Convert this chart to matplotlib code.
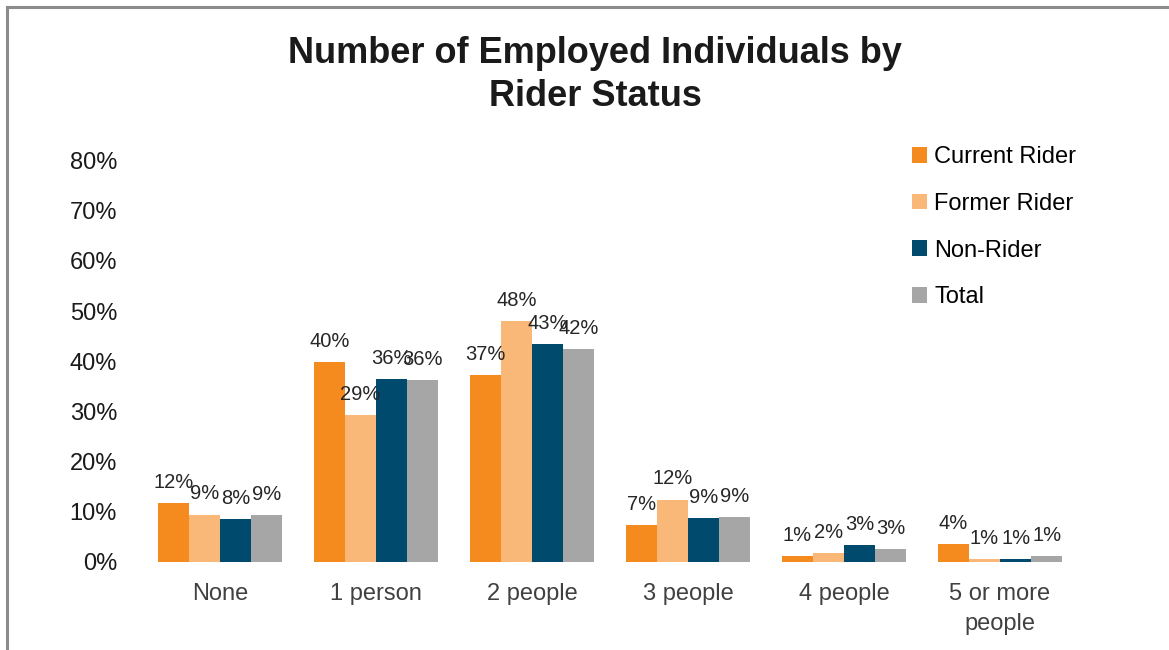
import numpy as np
import matplotlib
matplotlib.use("Agg")
import matplotlib.pyplot as plt
from matplotlib.lines import Line2D
from matplotlib.patches import Patch

plt.rcParams["font.family"] = ["Liberation Sans", "DejaVu Sans"]

# share of respondents by number of employed individuals in household (%)
categories = ["None", "1 person", "2 people", "3 people", "4 people", "5 or more\npeople"]
current_rider = [11.7, 39.9, 37.3, 7.4, 1.2, 3.6]
former_rider = [9.4, 29.3, 48.0, 12.4, 1.7, 0.6]
non_rider = [8.5, 36.4, 43.4, 8.8, 3.3, 0.6]
total = [9.3, 36.2, 42.4, 9.0, 2.6, 1.2]

series = [
    ("Current Rider", current_rider, "#F58A1F"),
    ("Former Rider", former_rider, "#F9B878"),
    ("Non-Rider", non_rider, "#004A6E"),
    ("Total", total, "#A6A6A6"),
]

fig = plt.figure(figsize=(11.69, 6.5), dpi=100)
ax = fig.add_axes([0.1215, 0.1358, 0.8007, 0.617])

x = np.arange(len(categories))
width = 0.2
for i, (name, vals, color) in enumerate(series):
    pos = x - 0.3 + i * width
    ax.bar(pos, vals, width=width, color=color, label=name)
    for px, v in zip(pos, vals):
        ax.annotate(f"{v:.0f}%", (px, v), xytext=(0, 8), textcoords="offset points",
                    ha="center", va="bottom", fontsize=14.5, color="#262626")

ax.set_xlim(-0.5, len(categories) - 0.5)
ax.set_ylim(0, 80)
ax.set_yticks(np.arange(0, 81, 10))
ax.set_yticklabels([f"{t}%" for t in range(0, 81, 10)], fontsize=17, color="#1a1a1a")
ax.set_xticks(x)
ax.set_xticklabels(categories, fontsize=17, color="#404040", linespacing=1.5)
ax.tick_params(axis="both", length=0)
ax.tick_params(axis="x", pad=15)
ax.tick_params(axis="y", pad=18)
for s in ax.spines.values():
    s.set_visible(False)

handles = [Patch(facecolor=c, edgecolor="none") for _, _, c in series]
fig.legend(handles, [n for n, _, _ in series], loc="upper left",
           bbox_to_anchor=(0.762, 0.808), frameon=False, fontsize=17,
           handlelength=0.65, handleheight=0.65, handletextpad=0.3,
           labelspacing=1.05)

fig.text(0.509, 0.945, "Number of Employed Individuals by\nRider Status",
         ha="center", va="top", fontsize=26, fontweight="bold",
         color="#1a1a1a", linespacing=1.32)

# frame along the top and left edges
fig.add_artist(Line2D([7 / 1169, 7 / 1169], [0, 1 - 7 / 650], transform=fig.transFigure,
                      color="#8c8c8c", lw=2.2))
fig.add_artist(Line2D([7 / 1169, 1], [1 - 7 / 650, 1 - 7 / 650], transform=fig.transFigure,
                      color="#8c8c8c", lw=2.2))

fig.savefig("out.png", dpi=100)
